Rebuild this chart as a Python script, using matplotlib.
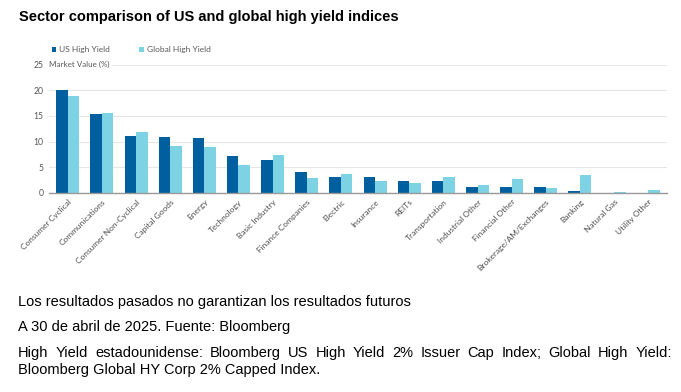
import numpy as np
import matplotlib
matplotlib.use("Agg")
import matplotlib.pyplot as plt
from matplotlib import font_manager

# data
sectors = ["Consumer Cyclical", "Communications", "Consumer Non-Cyclical", "Capital Goods",
           "Energy", "Technology", "Basic Industry", "Finance Companies", "Electric",
           "Insurance", "REITs", "Transportation", "Industrial Other", "Financial Other",
           "Brokerage/AM/Exchanges", "Banking", "Natural Gas", "Utility Other"]
us_hy = [20.0, 15.4, 11.1, 10.8, 10.6, 7.2, 6.3, 4.0, 3.0,
         3.0, 2.3, 2.25, 1.1, 1.1, 1.1, 0.35, 0.0, 0.0]
global_hy = [18.9, 15.5, 11.8, 9.1, 8.9, 5.5, 7.3, 2.9, 3.65,
             2.3, 1.8, 3.0, 1.45, 2.7, 0.9, 3.5, 0.05, 0.6]
y_ticks = [0, 5, 10, 15, 20, 25]

title = "Sector comparison of US and global high yield indices"
notes = ["Los resultados pasados no garantizan los resultados futuros",
         "A 30 de abril de 2025. Fuente: Bloomberg"]
note_long = ["High Yield estadounidense: Bloomberg US High Yield 2% Issuer Cap Index; Global High Yield:",
             "Bloomberg Global HY Corp 2% Capped Index."]

dark = "#00609f"
light = "#7dd3e4"
chart_font = "Lato"
names = {f.name for f in font_manager.fontManager.ttflist}
note_font = "Liberation Sans Narrow" if "Liberation Sans Narrow" in names else "Liberation Sans"
note_size = 10.5

fig = plt.figure(figsize=(6.81, 3.92), dpi=100)
W, H = 681, 392
ax = fig.add_axes([49 / W, 1 - 192.7 / H, 618 / W, 128 / H])

x = np.arange(len(sectors))
w = 0.335
ax.bar(x - w / 2, us_hy, w, color=dark, label="US High Yield", zorder=3)
ax.bar(x + w / 2, global_hy, w, color=light, label="Global High Yield", zorder=3)

ax.set_xlim(-0.55, len(sectors) - 0.45)
ax.set_ylim(0, 25)
ax.set_yticks(y_ticks)
ax.set_yticklabels([str(t) for t in y_ticks], fontsize=6.2, color="#595959", family=chart_font)
ax.yaxis.grid(True, color="#e6e6e6", linewidth=0.8, zorder=0)
ax.tick_params(axis="y", length=0, pad=4)
ax.tick_params(axis="x", length=0, pad=4)
for s in ["top", "right", "left"]:
    ax.spines[s].set_visible(False)
ax.spines["bottom"].set_color("#999999")
ax.spines["bottom"].set_linewidth(1.0)
ax.spines["bottom"].set_zorder(4)
ax.set_xticks(x)
ax.set_xticklabels(sectors, rotation=45, ha="right", rotation_mode="anchor",
                   fontsize=6.0, color="#505050", family=chart_font)

ax.text(0.0, 25, "Market Value (%)", fontsize=5.8, color="#595959", family=chart_font,
        va="center", ha="left", transform=ax.get_yaxis_transform(),
        bbox=dict(facecolor="white", edgecolor="none", pad=1.5), zorder=5)

# legend
fig.legend(loc="upper left", bbox_to_anchor=(44 / W, 1 - 38.5 / H), ncol=2, frameon=False,
           prop={"family": chart_font, "size": 6.0}, handlelength=0.55, handleheight=0.55,
           handletextpad=0.3, columnspacing=3.6, labelcolor="#595959")

fig.text(19 / W, 1 - 17 / H, title, fontsize=10.5, fontweight="bold",
         family="Liberation Sans", va="center", ha="left")

ys = [302, 327]
for t, yy in zip(notes, ys):
    fig.text(18 / W, 1 - yy / H, t, fontsize=note_size, family=note_font, va="center", ha="left")

# justified first line of the long note
fig.canvas.draw()
r = fig.canvas.get_renderer()
words = note_long[0].split()
left, right = 18, 672
arts = [fig.text(0, 1 - 353 / H, wd, fontsize=note_size, family=note_font, va="center", ha="left")
        for wd in words]
widths = [a.get_window_extent(r).width for a in arts]
gap = (right - left - sum(widths)) / (len(words) - 1)
pos = left
for a, wd in zip(arts, widths):
    a.set_x(pos / W)
    pos += wd + gap
fig.text(18 / W, 1 - 370 / H, note_long[1], fontsize=note_size, family=note_font,
         va="center", ha="left")

fig.savefig("out.png", dpi=100)
